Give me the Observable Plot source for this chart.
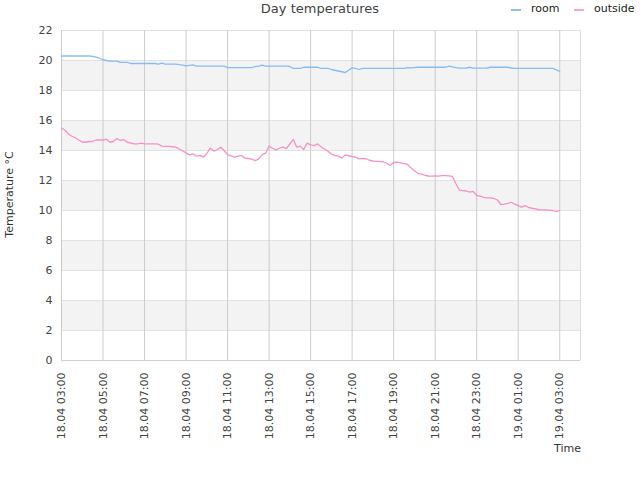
<!DOCTYPE html>
<html>
<head>
<meta charset="utf-8">
<script src="https://cdn.jsdelivr.net/npm/d3@7"></script>
<script src="https://cdn.jsdelivr.net/npm/@observablehq/plot@0.6"></script>
<style>
  html, body { margin: 0; padding: 0; background: #fff; }
  #wrap { position: relative; width: 640px; height: 480px; font-family: "DejaVu Sans", sans-serif; }
  #title { position: absolute; left: 0; width: 640px; top: 1px; text-align: center; font-size: 13px; color: #444; }
  .leg { position: absolute; top: 2px; font-size: 11px; color: #222; }
  .sw { position: absolute; top: 9px; width: 10px; height: 2px; }
  #ylab { position: absolute; left: -36px; top: 188px; width: 90px; text-align: center; font-size: 11px; color: #333; transform: rotate(-90deg); }
  #xlab { position: absolute; left: 554px; top: 442px; font-size: 11px; color: #333; }
</style>
</head>
<body>
<div id="wrap">
  <div id="chart"></div>
  <div id="title">Day temperatures</div>
  <div class="sw" style="left:511px;background:#8cc0f2"></div>
  <div class="leg" style="left:531px">room</div>
  <div class="sw" style="left:574px;background:#f5a6cf"></div>
  <div class="leg" style="left:594px">outside</div>
  <div id="ylab">Temperature °C</div>
  <div id="xlab">Time</div>
</div>
<script>
// Sample times (10-minute readings), 18.04 03:00 -> 19.04 03:00
const times = [
  "18.04 03:00","18.04 03:10","18.04 03:20","18.04 03:30","18.04 03:40","18.04 03:50",
  "18.04 04:00","18.04 04:10","18.04 04:20","18.04 04:30","18.04 04:40","18.04 04:50",
  "18.04 05:00","18.04 05:10","18.04 05:20","18.04 05:30","18.04 05:40","18.04 05:50",
  "18.04 06:00","18.04 06:10","18.04 06:20","18.04 06:30","18.04 06:40","18.04 06:50",
  "18.04 07:00","18.04 07:10","18.04 07:20","18.04 07:30","18.04 07:40","18.04 07:50",
  "18.04 08:00","18.04 08:10","18.04 08:20","18.04 08:30","18.04 08:40","18.04 08:50",
  "18.04 09:00","18.04 09:10","18.04 09:20","18.04 09:30","18.04 09:40","18.04 09:50",
  "18.04 10:00","18.04 10:10","18.04 10:20","18.04 10:30","18.04 10:40","18.04 10:50",
  "18.04 11:00","18.04 11:10","18.04 11:20","18.04 11:30","18.04 11:40","18.04 11:50",
  "18.04 12:00","18.04 12:10","18.04 12:20","18.04 12:30","18.04 12:40","18.04 12:50",
  "18.04 13:00","18.04 13:10","18.04 13:20","18.04 13:30","18.04 13:40","18.04 13:50",
  "18.04 14:00","18.04 14:10","18.04 14:20","18.04 14:30","18.04 14:40","18.04 14:50",
  "18.04 15:00","18.04 15:10","18.04 15:20","18.04 15:30","18.04 15:40","18.04 15:50",
  "18.04 16:00","18.04 16:10","18.04 16:20","18.04 16:30","18.04 16:40","18.04 16:50",
  "18.04 17:00","18.04 17:10","18.04 17:20","18.04 17:30","18.04 17:40","18.04 17:50",
  "18.04 18:00","18.04 18:10","18.04 18:20","18.04 18:30","18.04 18:40","18.04 18:50",
  "18.04 19:00","18.04 19:10","18.04 19:20","18.04 19:30","18.04 19:40","18.04 19:50",
  "18.04 20:00","18.04 20:10","18.04 20:20","18.04 20:30","18.04 20:40","18.04 20:50",
  "18.04 21:00","18.04 21:10","18.04 21:20","18.04 21:30","18.04 21:40","18.04 21:50",
  "18.04 22:00","18.04 22:10","18.04 22:20","18.04 22:30","18.04 22:40","18.04 22:50",
  "18.04 23:00","18.04 23:10","18.04 23:20","18.04 23:30","18.04 23:40","18.04 23:50",
  "19.04 00:00","19.04 00:10","19.04 00:20","19.04 00:30","19.04 00:40","19.04 00:50",
  "19.04 01:00","19.04 01:10","19.04 01:20","19.04 01:30","19.04 01:40","19.04 01:50",
  "19.04 02:00","19.04 02:10","19.04 02:20","19.04 02:30","19.04 02:40","19.04 02:50",
  "19.04 03:00"
];

const room = [
  20.3,20.3,20.3,20.3,20.3,20.3,
  20.3,20.3,20.3,20.28,20.22,20.15,
  20.05,20.0,19.96,19.96,19.96,19.87,
  19.87,19.87,19.8,19.8,19.8,19.8,
  19.8,19.8,19.8,19.8,19.76,19.82,
  19.76,19.76,19.76,19.76,19.72,19.69,
  19.64,19.68,19.71,19.62,19.62,19.62,
  19.62,19.62,19.62,19.62,19.62,19.62,
  19.53,19.53,19.53,19.53,19.53,19.53,
  19.53,19.53,19.6,19.62,19.69,19.62,
  19.62,19.62,19.62,19.62,19.62,19.62,
  19.6,19.47,19.47,19.47,19.55,19.55,
  19.55,19.55,19.55,19.47,19.47,19.47,
  19.4,19.35,19.3,19.25,19.2,19.35,
  19.51,19.47,19.4,19.47,19.47,19.47,
  19.47,19.47,19.47,19.47,19.47,19.47,
  19.47,19.47,19.47,19.47,19.52,19.51,
  19.53,19.55,19.55,19.55,19.55,19.55,
  19.55,19.55,19.55,19.55,19.62,19.57,
  19.52,19.49,19.49,19.5,19.55,19.49,
  19.49,19.49,19.49,19.5,19.55,19.55,
  19.55,19.55,19.55,19.55,19.5,19.47,
  19.47,19.47,19.47,19.47,19.47,19.47,
  19.47,19.47,19.47,19.47,19.47,19.38,
  19.28
];

const outside = [
  15.5,15.35,15.1,14.95,14.85,14.7,
  14.55,14.55,14.6,14.6,14.7,14.7,
  14.7,14.75,14.55,14.6,14.8,14.67,
  14.73,14.55,14.5,14.44,14.44,14.49,
  14.44,14.44,14.44,14.44,14.42,14.29,
  14.28,14.27,14.25,14.22,14.1,13.98,
  13.84,13.71,13.78,13.62,13.67,13.56,
  13.8,14.16,13.96,14.05,14.22,14.0,
  13.73,13.64,13.56,13.62,13.67,13.49,
  13.46,13.42,13.33,13.44,13.73,13.82,
  14.29,14.15,14.04,14.15,14.22,14.13,
  14.45,14.73,14.22,14.29,14.07,14.49,
  14.38,14.33,14.44,14.25,14.1,13.95,
  13.76,13.68,13.63,13.49,13.71,13.65,
  13.6,13.56,13.44,13.47,13.45,13.35,
  13.3,13.27,13.27,13.25,13.15,13.0,
  13.2,13.22,13.18,13.13,13.07,12.85,
  12.65,12.48,12.43,12.35,12.3,12.29,
  12.3,12.29,12.33,12.33,12.31,12.27,
  11.78,11.36,11.33,11.3,11.22,11.27,
  11.0,10.96,10.88,10.84,10.84,10.8,
  10.7,10.4,10.43,10.47,10.55,10.42,
  10.33,10.22,10.33,10.2,10.15,10.11,
  10.05,10.04,10.04,10.02,10.0,9.92,
  10.0
];

const xTickLabels = [
  "18.04 03:00","18.04 05:00","18.04 07:00","18.04 09:00","18.04 11:00","18.04 13:00",
  "18.04 15:00","18.04 17:00","18.04 19:00","18.04 21:00","18.04 23:00","19.04 01:00","19.04 03:00"
];
const xDomainLabels = ["18.04 03:00", "19.04 04:00"];
const yTicks = [0,2,4,6,8,10,12,14,16,18,20,22];
const yBands = [2,6,10,14,18];

const parse = s => {
  const [d, t] = s.split(" ");
  const [dd, mm] = d.split(".").map(Number);
  const [hh, mi] = t.split(":").map(Number);
  return new Date(Date.UTC(2024, mm - 1, dd, hh, mi));
};

const roomData = times.map((t, i) => ({time: parse(t), value: room[i]}));
const outsideData = times.map((t, i) => ({time: parse(t), value: outside[i]}));
const xTicks = xTickLabels.map(parse);
const tickFmt = d => xTickLabels[xTicks.findIndex(t => +t === +d)] ?? "";

const chart = Plot.plot({
  width: 640,
  height: 480,
  marginLeft: 61,
  marginRight: 60,
  marginTop: 30,
  marginBottom: 120,
  style: {fontFamily: "DejaVu Sans, sans-serif", fontSize: "11px", color: "#444", background: "#fff"},
  x: {type: "utc", domain: xDomainLabels.map(parse), ticks: xTicks, tickFormat: tickFmt, tickRotate: -90, tickSize: 0, tickPadding: 12, label: null},
  y: {domain: [0, 22], ticks: yTicks, tickSize: 0, tickPadding: 9, label: null},
  marks: [
    Plot.rect(yBands, {y1: d => d, y2: d => d + 2, fill: "#f3f3f3"}),
    Plot.ruleY(yTicks, {stroke: "#e2e2e2", strokeWidth: 1}),
    Plot.ruleX(xTicks, {stroke: "#cccccc", strokeWidth: 1}),
    Plot.ruleX([parse(xDomainLabels[1])], {stroke: "#dddddd", strokeWidth: 1}),
    Plot.ruleY([0], {stroke: "#d0d0d0", strokeWidth: 1}),
    Plot.lineY(roomData, {x: "time", y: "value", stroke: "#86bcf2", strokeWidth: 1.3}),
    Plot.lineY(outsideData, {x: "time", y: "value", stroke: "#f592c8", strokeWidth: 1.3})
  ]
});
document.getElementById("chart").appendChild(chart);
</script>
</body>
</html>
